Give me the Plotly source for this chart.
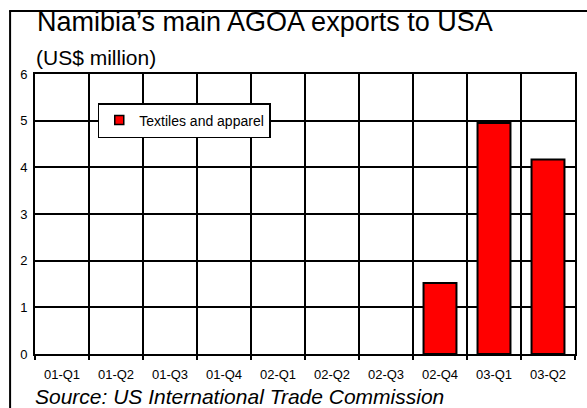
import plotly.graph_objects as go

# Quarterly AGOA exports from Namibia to the USA, US$ million
quarters = ["01-Q1", "01-Q2", "01-Q3", "01-Q4", "02-Q1",
            "02-Q2", "02-Q3", "02-Q4", "03-Q1", "03-Q2"]
textiles = [0, 0, 0, 0, 0, 0, 0, 1.52, 4.95, 4.17]
y_ticks = [0, 1, 2, 3, 4, 5, 6]

FONT = "Liberation Sans, Arial, sans-serif"
W, H = 587, 408
L, R, T, B = 35, 10, 74, 54
pw, ph = W - L - R, H - T - B


def px_x(x):
    return (x - L) / pw


def px_y(y):
    return (H - B - y) / ph


positions = list(range(len(quarters)))
# quarters without exports get no outline so nothing is drawn on the baseline
outline = [2 if v > 0 else 0 for v in textiles]

fig = go.Figure()
fig.add_trace(go.Bar(
    x=positions,
    y=textiles,
    name="Textiles and apparel",
    showlegend=False,
    marker=dict(color="#ff0000", line=dict(color="black", width=outline)),
))
# legend entry drawn as a small outlined square
fig.add_trace(go.Scatter(
    x=[None], y=[None], mode="markers",
    name="Textiles and apparel",
    marker=dict(symbol="square", size=9, color="#ff0000",
                line=dict(color="black", width=1.5)),
))

fig.update_layout(
    width=W, height=H,
    margin=dict(l=L, r=R, t=T, b=B),
    paper_bgcolor="white",
    plot_bgcolor="white",
    bargap=0.39,
    font=dict(family=FONT, color="black"),
    showlegend=True,
    legend=dict(
        x=px_x(98), y=px_y(103), xanchor="left", yanchor="top",
        bgcolor="white", bordercolor="black", borderwidth=1.5,
        font=dict(size=14, family=FONT),
        itemsizing="trace", itemwidth=30,
        tracegroupgap=0,
    ),
    xaxis=dict(
        range=[-0.5, len(quarters) - 0.5],
        tickmode="array", tickvals=positions, ticktext=quarters,
        ticks="", showgrid=False, zeroline=False,
        showline=True, linecolor="black", linewidth=2, mirror=True,
        tickfont=dict(size=13, family=FONT),
        ticklabelstandoff=7,
        minor=dict(tick0=0.5, dtick=1, showgrid=True, gridcolor="black",
                   gridwidth=2, ticks="outside", ticklen=4,
                   tickcolor="black", tickwidth=2),
        fixedrange=True,
    ),
    yaxis=dict(
        range=[0, 6], tickmode="array", tickvals=y_ticks,
        ticks="", showgrid=True, gridcolor="black", gridwidth=2,
        zeroline=False,
        showline=True, linecolor="black", linewidth=2, mirror=True,
        tickfont=dict(size=13, family=FONT),
        ticklabelstandoff=3,
        fixedrange=True,
    ),
    annotations=[
        dict(text="Namibia\u2019s main AGOA exports to USA",
             xref="paper", yref="paper", x=px_x(35), y=px_y(22),
             xanchor="left", yanchor="middle", showarrow=False,
             font=dict(size=27, family=FONT)),
        dict(text="(US$ million)",
             xref="paper", yref="paper", x=px_x(34), y=px_y(57),
             xanchor="left", yanchor="middle", showarrow=False,
             font=dict(size=21, family=FONT)),
        dict(text="<i>Source: US International Trade Commission</i>",
             xref="paper", yref="paper", x=px_x(33), y=px_y(396),
             xanchor="left", yanchor="middle", showarrow=False,
             font=dict(size=21, family=FONT)),
    ],
    shapes=[
        # outer frame: left and top edges
        dict(type="line", xref="paper", yref="paper",
             x0=px_x(10), x1=px_x(10), y0=px_y(11), y1=px_y(H + 5),
             line=dict(color="black", width=2)),
        dict(type="line", xref="paper", yref="paper",
             x0=px_x(9), x1=px_x(W + 5), y0=px_y(11), y1=px_y(11),
             line=dict(color="black", width=2)),
    ],
)

fig.write_html("out.html", config={"displayModeBar": False})
